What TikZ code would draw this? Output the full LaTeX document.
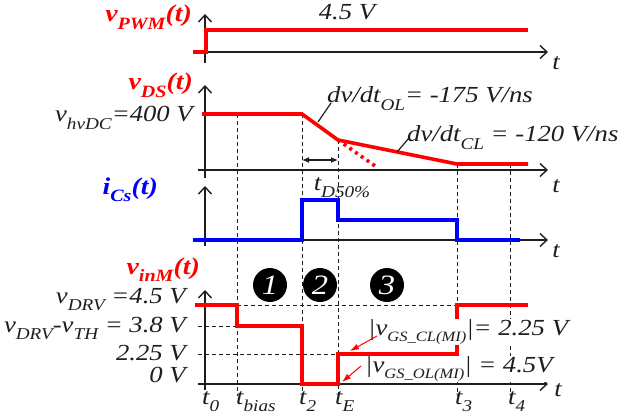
\documentclass[tikz,border=0pt]{standalone}
\usepackage{fontspec}
\setmainfont[FakeStretch=1.16]{Liberation Serif}
\usetikzlibrary{arrows.meta}
\definecolor{sigred}{RGB}{255,0,0}
\definecolor{sigblue}{RGB}{0,0,255}
\definecolor{ink}{RGB}{30,30,30}
\newcommand{\lsub}[1]{\raisebox{-.32em}{\scalebox{.72}{#1}}}
\newcommand{\gsub}[1]{\raisebox{-.30em}{\scalebox{.62}{#1}}}

\begin{document}
\begin{tikzpicture}[
  x=1pt,y=-1pt,
  font=\fontsize{23}{27}\selectfont\itshape,
  axis/.style={-{Straight Barb[length=7pt,width=13pt]},draw=ink,line width=1.4pt},
  redwave/.style={draw=sigred,line width=3.6pt},
  bluewave/.style={draw=sigblue,line width=3.6pt},
  guide/.style={draw=ink,line width=1pt,dash pattern=on 4pt off 3pt},
  sig/.style={font=\fontsize{24}{28}\selectfont\bfseries\itshape,inner sep=0pt},
  lab/.style={inner sep=0pt,text=ink},
  gslab/.style={lab,fill=white},
  phasedot/.style={circle,fill=black,text=white,minimum size=34pt,inner sep=0pt,
                   font=\fontsize{28}{30}\selectfont\itshape},
  pointer/.style={-{Latex[length=9pt,width=6pt]},draw=sigred,line width=1pt},
  leader/.style={draw=ink,line width=1.2pt},
  span/.style={{Latex[length=7pt,width=6pt]}-{Latex[length=7pt,width=6pt]},draw=ink,line width=1.2pt}
]
\useasboundingbox (0,0) rectangle (623,414);

% Switching instants.
\draw[guide] (237,114)--(237,396);
\draw[guide] (302,114)--(302,396);
\draw[guide] (338,140)--(338,396);
\draw[guide] (457,164)--(457,396);
\draw[guide] (510,164)--(510,396);
\draw[guide] (237,305)--(457,305);
\draw[guide] (198,326)--(237,326);
\draw[guide] (198,354)--(338,354);

% Axes.
\draw[axis] (205,63)--(205,14);
\draw[axis] (205,52)--(548,52);
\draw[axis] (205,178)--(205,85);
\draw[axis] (198,170)--(548,170);
\draw[axis] (205,246)--(205,186);
\draw[axis] (198,240)--(548,240);
\draw[axis] (205,390)--(205,290);
\draw[axis] (198,384)--(548,384);

% Annotation for open-loop gate swing.
\node[gslab,anchor=base west] (olgs) at (365,372) {|v\gsub{GS\_OL(MI)}| = 4.5V};

% Waveforms.
\draw[redwave] (193,52)--(206,52)--(206,30)--(528,30);
\draw[redwave] (202,114)--(302,114)--(338,140)--(457,164)--(528,164);
\draw[draw=sigred,line width=3.6pt,dash pattern=on 3pt off 4pt] (338,140)--(378,168);
\draw[bluewave] (193,240)--(302,240)--(302,200)--(338,200)--(338,220)
  --(457,220)--(457,240)--(520,240);
\draw[redwave] (195,305)--(237,305)--(237,326)--(302,326)--(302,384)
  --(338,384)--(338,354)--(457,354)--(457,305)--(528,305);

% Panel titles.
\node[sig,text=sigred,anchor=base east] (pwm) at (192,22) {v\lsub{PWM}(t)};
\node[sig,text=sigred,anchor=base east] (vds) at (193,90) {v\lsub{DS}(t)};
\node[sig,text=sigblue,anchor=base east] (ics) at (158,194) {i\lsub{Cs}(t)};
\node[sig,text=sigred,anchor=base east] (vinm) at (200,274) {v\lsub{inM}(t)};

% Time labels.
\node[lab,anchor=base] (tax1) at (556,70) {t};
\node[lab,anchor=base] (tax2) at (556,192) {t};
\node[lab,anchor=base] (tax3) at (556,257) {t};
\node[lab,anchor=base] (tax4) at (558,396) {t};
\node[lab,anchor=base west] (tzero) at (202,404) {t\lsub{0}};
\node[lab,anchor=base west] (tbias) at (236,404) {t\lsub{bias}};
\node[lab,anchor=base west] (ttwo) at (299,404) {t\lsub{2}};
\node[lab,anchor=base west] (tend) at (335,404) {t\lsub{E}};
\node[lab,anchor=base west] (tthree) at (455,404) {t\lsub{3}};
\node[lab,anchor=base west] (tfour) at (508,404) {t\lsub{4}};

% Levels.
\node[lab,anchor=base] (pwmlev) at (347,20) {4.5 V};
\node[lab,anchor=base east] (hvdc) at (193,122) {v\lsub{hvDC}=400 V};
\node[lab,anchor=base east] (drv) at (186,303) {v\lsub{DRV} =4.5 V};
\node[lab,anchor=base east] (drvth) at (186,332) {v\lsub{DRV}-v\lsub{TH} = 3.8 V};
\node[lab,anchor=base east] (half) at (186,360) {2.25 V};
\node[lab,anchor=base east] (zero) at (186,382) {0 V};

% Slopes.
\node[lab,anchor=base west] (olslope) at (327,103) {dv/dt\lsub{OL}= -175 V/ns};
\node[lab,anchor=base west] (clslope) at (407,142) {dv/dt\lsub{CL} = -120 V/ns};
\coordinate (olfoot) at (318,122);
\coordinate (clfoot) at (397,152);
\draw[leader] (olfoot)--([xshift=4pt]olslope.base west);
\draw[leader] (clfoot)--([xshift=2pt,yshift=4pt]clslope.base west);

% Delay.
\coordinate (dstart) at (302,160);
\coordinate (dend) at (338,160);
\draw[span] (dstart)--(dend);
\node[lab,anchor=base] (tdelay) at (342,190) {t\lsub{D50\%}};

% Intervals.
\node[phasedot] (ph1) at (270,285) {1};
\node[phasedot] (ph2) at (320,285) {2};
\node[phasedot] (ph3) at (387,285) {3};

% Gate swing annotations.
\node[gslab,anchor=base west] (clgs) at (368,335) {|v\gsub{GS\_CL(MI)}|= 2.25 V};
\coordinate (cltip) at (350,351);
\coordinate (oltip) at (342,382);
\draw[pointer] ([xshift=9pt,yshift=-1pt]clgs.base west)--(cltip);
\draw[pointer] ([xshift=-4pt,yshift=6pt]olgs.base west)--(oltip);

\end{tikzpicture}
\end{document}
